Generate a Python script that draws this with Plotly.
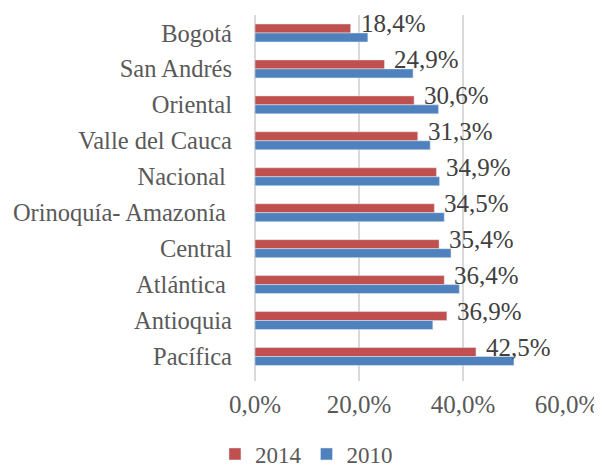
import plotly.graph_objects as go

categories = ["Bogotá", "San Andrés", "Oriental", "Valle del Cauca", "Nacional\u00a0",
              "Orinoquía- Amazonía\u00a0", "Central", "Atlántica\u00a0", "Antioquia", "Pacífica"]
values_2014 = [18.4, 24.9, 30.6, 31.3, 34.9, 34.5, 35.4, 36.4, 36.9, 42.5]
values_2010 = [21.7, 30.4, 35.3, 33.7, 35.5, 36.4, 37.7, 39.3, 34.2, 49.8]
tick_vals = [0, 20, 40, 60]
tick_text = [f"{v:.1f}%".replace(".", ",") for v in tick_vals]
label_text = [f"{v:.1f}%".replace(".", ",") for v in values_2014]

FONT = "Liberation Serif, serif"
TXT = "#595959"

fig = go.Figure()
fig.add_trace(go.Bar(
    name="2014", y=categories, x=values_2014, orientation="h",
    marker=dict(color="#C0504D"),
))
fig.add_trace(go.Bar(
    name="2010", y=categories, x=values_2010, orientation="h",
    marker=dict(color="#4F81BD"),
))

for cat, val, txt in zip(categories, values_2014, label_text):
    fig.add_annotation(x=val, y=cat, xref="x", yref="y", text=txt, showarrow=False,
                       xanchor="left", yanchor="middle", xshift=8, yshift=9,
                       font=dict(family=FONT, size=25, color="#404040"))

# page body has an 8px margin: the figure is drawn offset by (8, 8)
fig.update_layout(
    width=602, height=468,
    margin=dict(l=247, r=43, t=7, b=95, autoexpand=False),
    paper_bgcolor="white", plot_bgcolor="white",
    barmode="group", bargap=0.5, bargroupgap=0,
    font=dict(family=FONT, size=24, color=TXT),
    showlegend=True,
    legend=dict(orientation="h", x=0.165, xanchor="center",
                yref="container", y=0.047, yanchor="middle",
                font=dict(family=FONT, size=23, color=TXT), traceorder="normal",
                itemwidth=30, tracegroupgap=0),
)
fig.update_xaxes(range=[0, 60], tickvals=tick_vals, ticktext=tick_text,
                 showgrid=True, gridcolor="#D9D9D9", gridwidth=1.5,
                 zeroline=True, zerolinecolor="#D9D9D9", zerolinewidth=1.5,
                 showline=False, ticks="outside", ticklen=1, tickcolor="rgba(0,0,0,0)",
                 automargin=False,
                 tickfont=dict(family=FONT, size=25, color=TXT))
fig.update_yaxes(autorange="reversed", showgrid=False, showline=False,
                 ticks="", ticklabelstandoff=22, automargin=False,
                 tickfont=dict(family=FONT, size=24.5, color=TXT))

fig.write_html("out.html")
